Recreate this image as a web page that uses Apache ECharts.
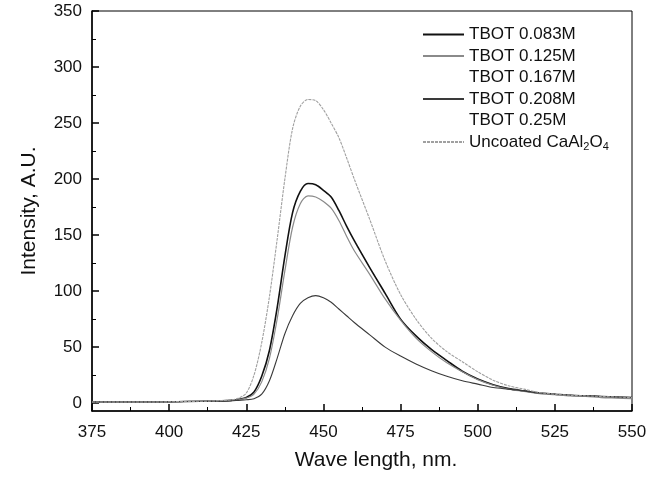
<!DOCTYPE html>
<html>
<head>
<meta charset="utf-8">
<script src="https://cdn.jsdelivr.net/npm/echarts@6/dist/echarts.min.js"></script>
<style>
  html, body { margin: 0; padding: 0; background: #fff; }
  #chart { width: 669px; height: 477px; }
</style>
</head>
<body>
<div id="chart"></div>
<script>
// wavelengths (nm) shared by all curves
const wavelengths = [375, 385, 395, 405, 415, 420, 422.5, 425, 427.5, 430, 432.5, 435, 437.5, 440, 442.5, 445, 447.5, 450, 452.5, 455, 457.5, 460, 465, 470, 475, 480, 485, 490, 495, 500, 505, 510, 515, 520, 525, 530, 535, 540, 545, 550];

const tbot083 = [1, 1, 1, 1.5, 2, 2.5, 3.5, 5, 10, 24, 47, 85, 131, 170, 189, 196, 195, 190, 184, 172, 158, 145, 121, 98, 75, 60, 48, 38, 28.5, 21.5, 16.5, 13, 11, 9, 8, 7, 6.5, 6, 5.5, 5];
const tbot125 = [1, 1, 1, 1.5, 2, 2.5, 3, 4.5, 8, 19, 40, 75, 118, 157, 178, 185, 184, 180, 174, 163, 149, 136, 115, 93, 74, 58, 46, 36, 28, 21, 16, 12.5, 10.5, 8.5, 7.5, 6.5, 6, 5, 4.5, 4];
const tbot167 = [];
const tbot208 = [1, 1, 1, 1.5, 1.5, 2, 2.5, 3, 4, 8, 20, 40, 62, 78, 89, 94, 96, 94, 90, 84, 78, 72, 61, 50, 42, 35, 29, 24, 20, 17, 14, 12.5, 11, 9, 8, 7, 6.5, 6, 5.5, 5];
const tbot250 = [];
const uncoated = [1, 1, 1, 1.5, 2, 3, 4.5, 9, 25, 54, 95, 146, 200, 245, 265, 271, 270, 262, 250, 237, 219, 200, 164, 127, 97, 75, 58, 46, 37, 28, 20.5, 15.5, 12.5, 9.5, 8, 7, 6.5, 6, 5.5, 5];

const seriesNames = ["TBOT 0.083M", "TBOT 0.125M", "TBOT 0.167M", "TBOT 0.208M", "TBOT 0.25M", "Uncoated CaAl2O4"];
const yTicks = [0, 50, 100, 150, 200, 250, 300, 350];
const yMinorTicks = [25, 75, 125, 175, 225, 275, 325];

const font = "'Liberation Sans', Arial, sans-serif";

function pairs(values) {
  return values.map((v, i) => [wavelengths[i], v]);
}

function line(name, values, color, width, type) {
  return {
    name,
    type: "line",
    data: pairs(values),
    symbol: "none",
    smooth: 0.3,
    color,
    lineStyle: { color, width, type: type || "solid" },
    emphasis: { disabled: true }
  };
}

const chart = echarts.init(document.getElementById("chart"));
chart.setOption({
  backgroundColor: "#fff",
  animation: false,
  textStyle: { fontFamily: font },
  grid: {
    left: 92, right: 37, top: 11, bottom: 66,
    show: true, borderColor: "#000", borderWidth: 1
  },
  legend: {
    orient: "vertical",
    left: 417,
    top: 21,
    itemWidth: 41,
    itemHeight: 10,
    itemGap: 4.5,
    itemStyle: { opacity: 0 },
    data: seriesNames,
    textStyle: {
      fontFamily: font, fontSize: 17, color: "#111", lineHeight: 17,
      rich: {
        sub: { fontSize: 11, color: "#111", padding: [9, 0, 0, 0], fontFamily: font }
      }
    },
    formatter(name) {
      return name === "Uncoated CaAl2O4" ? "Uncoated CaAl{sub|2}O{sub|4}" : name;
    }
  },
  xAxis: {
    type: "value",
    min: 375,
    max: 550,
    interval: 25,
    name: "Wave length, nm.",
    nameLocation: "middle",
    nameGap: 39,
    nameTextStyle: { fontFamily: font, fontSize: 21, color: "#111", padding: [0, 0, 0, 28] },
    axisLine: { onZero: false, lineStyle: { color: "#000", width: 1.5 } },
    axisTick: { inside: true, length: 7, lineStyle: { color: "#000", width: 1.5 } },
    minorTick: { show: true, splitNumber: 2, length: 4, lineStyle: { color: "#000" } },
    axisLabel: { margin: 13, fontFamily: font, fontSize: 17, color: "#111" },
    splitLine: { show: false }
  },
  yAxis: [
    {
      type: "value",
      min: -7,
      max: 350,
      name: "Intensity, A.U.",
      nameLocation: "middle",
      nameGap: 52,
      nameTextStyle: { fontFamily: font, fontSize: 21, color: "#111" },
      axisLine: { show: true, lineStyle: { color: "#000", width: 1.5 } },
      axisTick: { inside: true, length: 7, customValues: yTicks, lineStyle: { color: "#000", width: 1.5 } },
      axisLabel: { customValues: yTicks, margin: 10, fontFamily: font, fontSize: 17, color: "#111" },
      splitLine: { show: false }
    },
    {
      type: "value",
      min: -7,
      max: 350,
      position: "left",
      axisLine: { show: false },
      axisTick: { show: true, inside: true, length: 4, customValues: yMinorTicks, lineStyle: { color: "#000" } },
      axisLabel: { show: false },
      splitLine: { show: false }
    }
  ],
  series: [
    line(seriesNames[0], tbot083, "#111", 1.6),
    line(seriesNames[1], tbot125, "#8a8a8a", 1.2),
    line(seriesNames[2], tbot167, "#ffffff", 1),
    line(seriesNames[3], tbot208, "#3a3a3a", 1.1),
    line(seriesNames[4], tbot250, "#ffffff", 1),
    line(seriesNames[5], uncoated, "#a0a0a0", 1.1, [3, 1])
  ]
});
</script>
</body>
</html>
